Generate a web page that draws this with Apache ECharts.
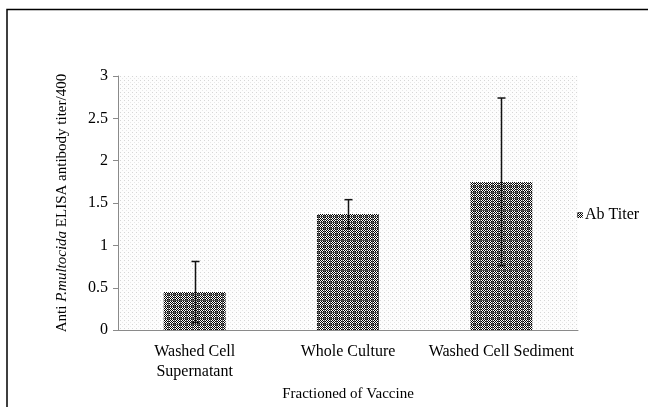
<!DOCTYPE html>
<html>
<head>
<meta charset="utf-8">
<script src="https://cdn.jsdelivr.net/npm/echarts@6/dist/echarts.min.js"></script>
<style>
  html, body { margin: 0; padding: 0; background: #fff; }
  #chart { width: 648px; height: 407px; }
</style>
</head>
<body>
<div id="chart"></div>
<script>
var categories = ['Washed Cell\nSupernatant', 'Whole Culture', 'Washed Cell Sediment'];
var titers = [0.45, 1.37, 1.75];
var errors = [0.36, 0.17, 0.99];
var yTicks = ['0', '0.5', '1', '1.5', '2', '2.5', '3'];

// dotted plot background
function dotPattern () {
  var c = document.createElement('canvas');
  c.width = 4; c.height = 4;
  var ctx = c.getContext('2d');
  ctx.fillStyle = '#fdfdfd';
  ctx.fillRect(0, 0, 4, 4);
  ctx.fillStyle = '#d6d6d6';
  ctx.fillRect(0, 0, 1, 1);
  ctx.fillStyle = '#e8e8e8';
  ctx.fillRect(2, 2, 1, 1);
  return c;
}

// checkered bar fill
function checkPattern () {
  var c = document.createElement('canvas');
  c.width = 6; c.height = 6;
  var ctx = c.getContext('2d');
  for (var i = 0; i < 6; i++) {
    for (var j = 0; j < 6; j++) {
      ctx.fillStyle = (i + j) % 2 === 0 ? '#000' : '#fff';
      ctx.fillRect(i, j, 1, 1);
    }
  }
  ctx.fillStyle = '#555';
  ctx.fillRect(0, 0, 6, 1);
  ctx.fillRect(0, 0, 1, 6);
  return c;
}

var chart = echarts.init(document.getElementById('chart'));
var font = '"Liberation Serif", "Times New Roman", serif';

chart.setOption({
  animation: false,
  textStyle: { fontFamily: font },
  graphic: [{
    type: 'rect',
    shape: { x: 7, y: 9.5, width: 700, height: 500 },
    style: { fill: 'none', stroke: '#000', lineWidth: 1.5 },
    z: 100
  }],
  grid: {
    left: 118, right: 70, top: 76, bottom: 76,
    show: true,
    borderWidth: 0,
    backgroundColor: { image: dotPattern(), repeat: 'repeat' }
  },
  legend: {
    left: 572, top: 202,
    itemWidth: 6, itemHeight: 6, itemGap: 2,
    data: ['Ab Titer'],
    textStyle: { fontFamily: font, fontSize: 16, color: '#000', padding: [0, 0, 0, -3] }
  },
  xAxis: {
    type: 'category',
    data: categories,
    name: 'Fractioned of Vaccine',
    nameLocation: 'middle',
    nameGap: 56,
    nameTextStyle: { fontFamily: font, fontSize: 15, color: '#000' },
    axisLine: { lineStyle: { color: '#8a8a8a', width: 1 } },
    axisTick: { length: 5, lineStyle: { color: '#8a8a8a' } },
    axisLabel: { fontFamily: font, fontSize: 16, color: '#000', margin: 12, lineHeight: 20, interval: 0 }
  },
  yAxis: {
    type: 'value',
    min: 0, max: 3, interval: 0.5,
    name: '{n|Anti }{i|P.multocida}{n| ELISA antibody titer/400}',
    nameLocation: 'middle',
    nameRotate: 90,
    nameGap: 48,
    nameTextStyle: {
      rich: {
        n: { fontFamily: font, fontSize: 15, color: '#000' },
        i: { fontFamily: font, fontSize: 15, color: '#000', fontStyle: 'italic' }
      }
    },
    axisLine: { show: true, lineStyle: { color: '#8a8a8a', width: 1 } },
    axisTick: { show: true, length: 5, lineStyle: { color: '#8a8a8a' } },
    splitLine: { show: false },
    axisLabel: {
      fontFamily: font, fontSize: 16, color: '#000', margin: 10,
      formatter: function (v) { return yTicks[Math.round(v * 2)]; }
    }
  },
  series: [
    {
      name: 'Ab Titer',
      type: 'bar',
      barWidth: 62,
      data: titers,
      itemStyle: { color: { image: checkPattern(), repeat: 'repeat' } }
    },
    {
      name: 'err',
      type: 'custom',
      data: titers.map(function (v, i) { return [i, v - errors[i], v + errors[i]]; }),
      z: 10,
      renderItem: function (params, api) {
        var lo = api.coord([api.value(0), api.value(1)]);
        var hi = api.coord([api.value(0), api.value(2)]);
        var x = Math.round(lo[0]) + 0.5;
        var st = { stroke: '#111', lineWidth: 1.5 };
        return {
          type: 'group',
          children: [
            { type: 'line', shape: { x1: x, y1: lo[1], x2: x, y2: hi[1] }, style: st },
            { type: 'line', shape: { x1: x - 4, y1: hi[1], x2: x + 4, y2: hi[1] }, style: st },
            { type: 'line', shape: { x1: x - 4, y1: lo[1], x2: x + 4, y2: lo[1] }, style: st }
          ]
        };
      }
    }
  ]
});
</script>
</body>
</html>
